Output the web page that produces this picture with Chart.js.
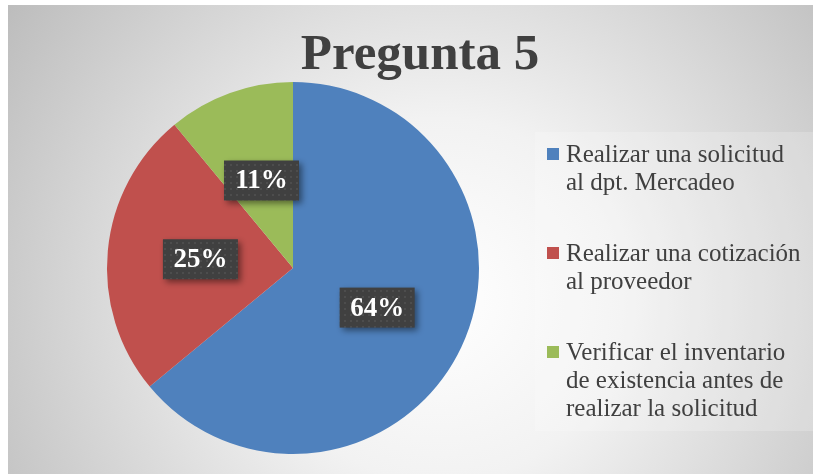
<!DOCTYPE html>
<html>
<head>
<meta charset="utf-8">
<script src="https://cdn.jsdelivr.net/npm/chart.js@4"></script>
<style>
    html, body { margin: 0; padding: 0; background: #ffffff; }
    #wrap { width: 817px; height: 474px; }
</style>
</head>
<body>
<div id="wrap"><canvas id="pie_chart" width="817" height="474"></canvas></div>
<script>
const title_text = "Pregunta 5"
const categories = [
    ["Realizar una solicitud", "al dpt. Mercadeo"],
    ["Realizar una cotización", "al proveedor"],
    ["Verificar el inventario", "de existencia antes de", "realizar la solicitud"]
]
const percentages = [64, 25, 11]
const slice_colors = ["#4f81bd", "#c0504d", "#9bbb59"]

const serif = "'Liberation Serif', 'DejaVu Serif', serif"
const text_color = "#404040"

// dotted dark fill used behind the data labels
function make_label_pattern(ctx) {
    const tile = document.createElement("canvas")
    tile.width = 6
    tile.height = 6
    const t = tile.getContext("2d")
    t.fillStyle = "#404040"
    t.fillRect(0, 0, 6, 6)
    t.fillStyle = "#4d4d4d"
    t.fillRect(2, 2, 2, 2)
    return ctx.createPattern(tile, "repeat")
}

const background_plugin = {
    id: "background_plugin",
    beforeDraw(chart) {
        const ctx = chart.ctx
        ctx.save()
        ctx.fillStyle = "#ffffff"
        ctx.fillRect(0, 0, chart.width, chart.height)
        const grad = ctx.createRadialGradient(440, 300, 0, 440, 300, 520)
        grad.addColorStop(0, "#ffffff")
        grad.addColorStop(0.35, "#f2f2f2")
        grad.addColorStop(1, "#bdbdbd")
        ctx.fillStyle = grad
        ctx.fillRect(8, 5, 805, 469)
        // lighter panel behind the legend
        ctx.fillStyle = "rgba(255,255,255,0.2)"
        ctx.fillRect(535, 132, 279, 299)
        // title
        ctx.fillStyle = text_color
        ctx.font = `bold 51px ${serif}`
        ctx.textAlign = "center"
        ctx.textBaseline = "alphabetic"
        ctx.fillText(title_text, 420, 69)
        ctx.restore()
    }
}

const legend_plugin = {
    id: "legend_plugin",
    afterDraw(chart) {
        const ctx = chart.ctx
        ctx.save()
        ctx.font = `25px ${serif}`
        ctx.textAlign = "left"
        ctx.textBaseline = "alphabetic"
        categories.forEach((lines, i) => {
            const base = 162 + i * 99
            ctx.fillStyle = slice_colors[i]
            ctx.fillRect(547, base - 14, 12, 12)
            ctx.fillStyle = text_color
            lines.forEach((line, j) => {
                ctx.fillText(line, 566, base + j * 28)
            })
        })
        ctx.restore()
    }
}

const label_plugin = {
    id: "label_plugin",
    afterDatasetsDraw(chart) {
        const ctx = chart.ctx
        const meta = chart.getDatasetMeta(0)
        const pattern = make_label_pattern(ctx)
        ctx.save()
        meta.data.forEach((arc, i) => {
            const p = arc.getProps(["x", "y", "startAngle", "endAngle", "outerRadius"], true)
            const mid = (p.startAngle + p.endAngle) / 2
            const cx = p.x + Math.cos(mid) * p.outerRadius * 0.5
            const cy = p.y + Math.sin(mid) * p.outerRadius * 0.5
            const w = 75, h = 40
            ctx.save()
            ctx.shadowColor = "rgba(0,0,0,0.45)"
            ctx.shadowBlur = 6
            ctx.shadowOffsetX = 3
            ctx.shadowOffsetY = 3
            ctx.fillStyle = pattern
            ctx.fillRect(cx - w / 2, cy - h / 2, w, h)
            ctx.restore()
            ctx.fillStyle = "#ffffff"
            ctx.font = `bold 27px ${serif}`
            ctx.textAlign = "center"
            ctx.textBaseline = "middle"
            ctx.fillText(percentages[i] + "%", cx, cy + 1)
        })
        ctx.restore()
    }
}

new Chart(document.getElementById("pie_chart"), {
    type: "pie",
    data: {
        labels: categories.map(l => l.join(" ")),
        datasets: [{
            data: percentages,
            backgroundColor: slice_colors,
            borderWidth: 0
        }]
    },
    options: {
        responsive: false,
        animation: false,
        layout: {
            padding: { left: 107, top: 82, right: 338, bottom: 20 }
        },
        plugins: {
            legend: { display: false },
            tooltip: { enabled: false },
            title: { display: false }
        }
    },
    plugins: [background_plugin, label_plugin, legend_plugin]
});
</script>
</body>
</html>
